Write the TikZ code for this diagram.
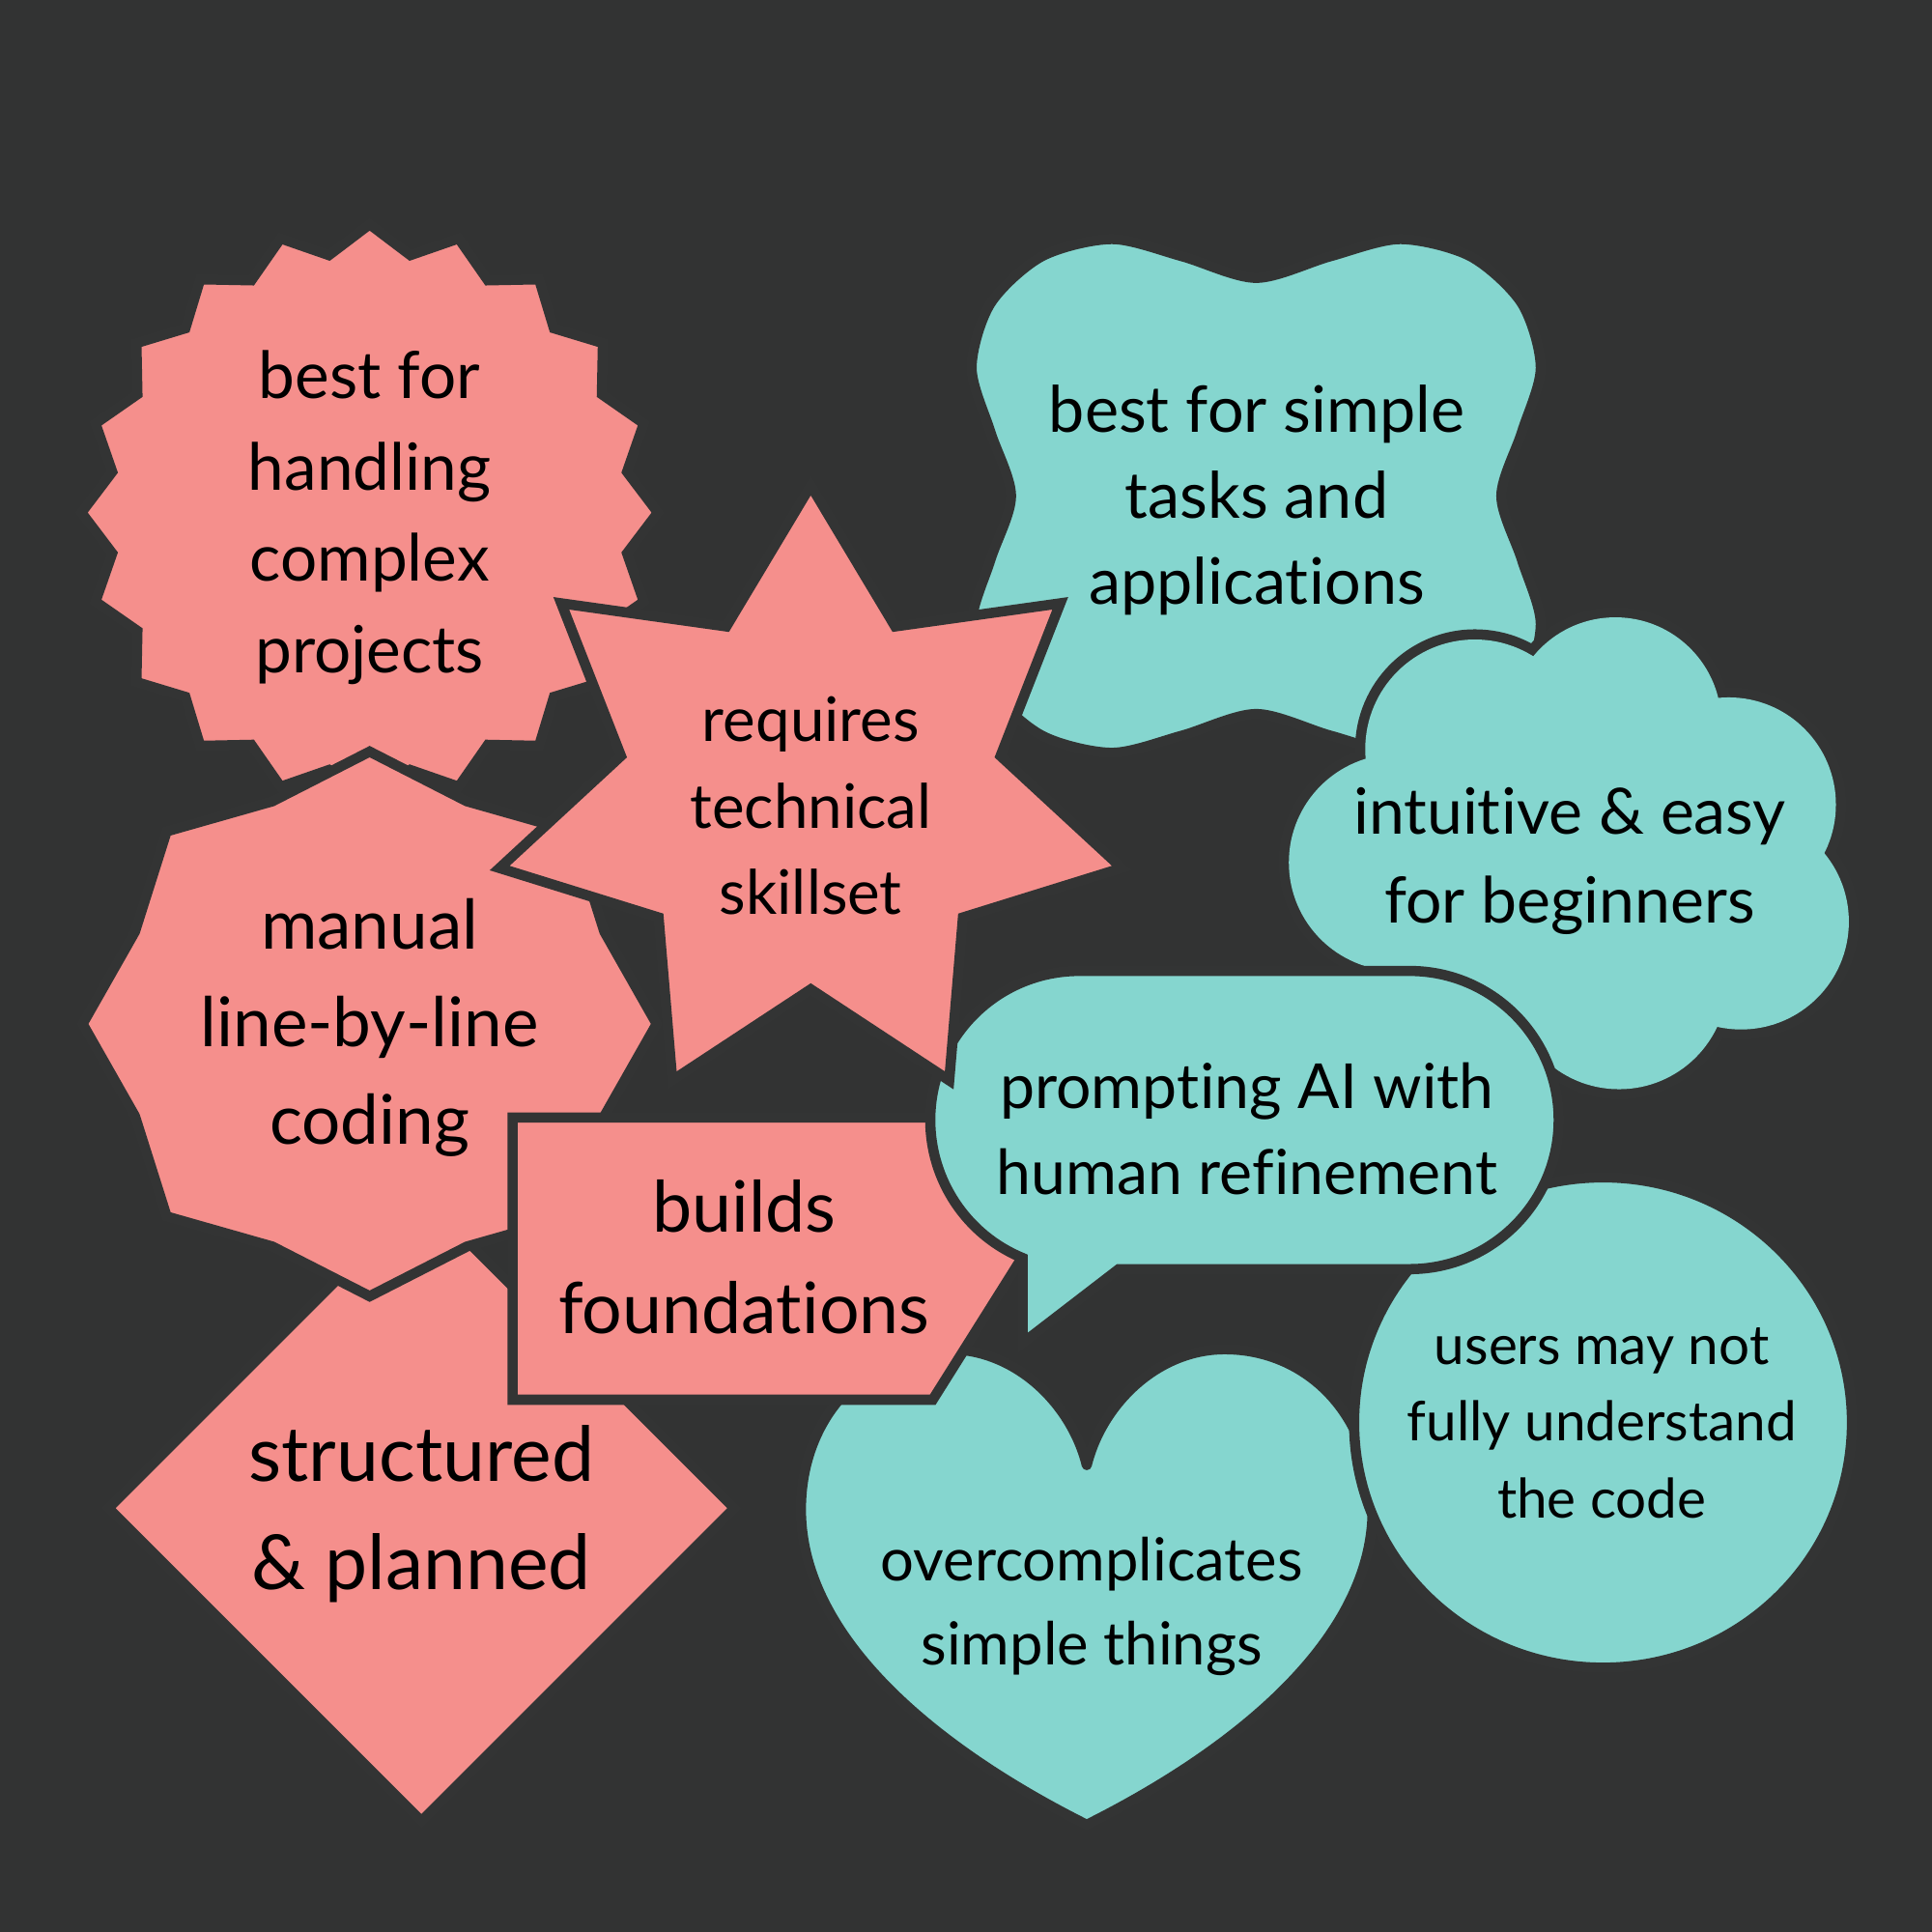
\documentclass[tikz,border=0pt]{standalone}
\usepackage{fontspec}
\setmainfont{Lato}[Ligatures={NoCommon,NoRequired,NoContextual,NoRare}, Contextuals={NoAlternate}]
\definecolor{bgc}{HTML}{323333}
\definecolor{edgec}{HTML}{333434}
\definecolor{pinkc}{HTML}{F58F8C}
\definecolor{tealc}{HTML}{85D6CF}
\newcommand{\brk}{\kern0.2pt}
\tikzset{
  pinkshape/.style={fill=pinkc, draw=edgec, line width=3pt, line join=miter},
  tealshape/.style={fill=tealc, draw=edgec, line width=3pt, line join=round},
  lbl/.style={text=black, align=center, inner sep=0pt},
}
\begin{document}
\begin{tikzpicture}[x=0.012755cm, y=-0.012755cm]
\fill[bgc] (0,0) rectangle (1568,1568);

% starburst (20 points)
\filldraw[pinkshape] plot[samples at={0,...,39}, variable=\k]
  ({300+234*(1-0.096*mod(\k,2))*cos(90+9*\k)}, {416-234*(1-0.096*mod(\k,2))*sin(90+9*\k)}) -- cycle;

% bone shape
\draw[tealshape] plot[smooth cycle, tension=0.5] coordinates {
  (1019.5,225.5)
  (1079.5,208) (1136.5,194) (1193.5,208) (1235.2,246.25) (1250.5,298.5) (1235.2,350.75)
  (1218.5,402.5)
  (1235.2,454.25) (1250.5,506.5) (1235.2,558.75) (1193.5,597) (1136.5,611) (1079.5,597)
  (1019.5,579.5)
  (959.5,597) (902.5,611) (845.5,597) (803.8,558.75) (788.5,506.5) (803.8,454.25)
  (820.5,402.5)
  (803.8,350.75) (788.5,298.5) (803.8,246.25) (845.5,208) (902.5,194) (959.5,208)};

% cloud
\foreach \cx/\cy/\cr in {1197/608/1.1352, 1311/587/1.0969, 1403/653/1.1097, 1413/748/1.1161, 1314/796/1.1224, 1220/760/1.1224, 1134/700/1.1224}
  \draw[edgec, line width=6pt] (\cx,\cy) circle [radius=\cr cm];
\fill[tealc] (1197,608) -- (1311,587) -- (1403,653) -- (1413,748) -- (1314,796) -- (1220,760) -- (1134,700) -- cycle;
\foreach \cx/\cy/\cr in {1197/608/1.1352, 1311/587/1.0969, 1403/653/1.1097, 1413/748/1.1161, 1314/796/1.1224, 1220/760/1.1224, 1134/700/1.1224}
  \fill[tealc] (\cx,\cy) circle [radius=\cr cm];

% diamond
\filldraw[pinkshape] (342,970) -- (596,1224) -- (342,1478) -- (88,1224) -- cycle;

% manual (8 points)
\filldraw[pinkshape] plot[samples at={0,...,15}, variable=\k]
  ({300+233*(1-0.115*mod(\k,2))*cos(90+22.5*\k)}, {831-221*(1-0.115*mod(\k,2))*sin(90+22.5*\k)}) -- cycle;

% heart
\draw[tealshape] (882,1189) .. controls (894,1140) and (939,1095) .. (994,1095)
  .. controls (1062,1095) and (1114,1150) .. (1114,1225)
  .. controls (1114,1330) and (1004,1420) .. (882,1481)
  .. controls (760,1420) and (650,1330) .. (650,1225)
  .. controls (650,1150) and (702,1095) .. (770,1095)
  .. controls (825,1095) and (870,1140) .. (882,1189) -- cycle;

% builds foundations
\filldraw[pinkshape] (416,907) -- (757,907) -- (829,1021.5) -- (757,1136) -- (416,1136) -- cycle;

% circle
\draw[tealshape] (1301,1154.5) ellipse [x radius=2.577cm, y radius=2.538cm];

% speech bubble
\draw[tealshape, line join=miter] (876,788) -- (1144,788)
  .. controls (1210.8,788) and (1265,842.2) .. (1265,909)
  .. controls (1265,975.8) and (1210.8,1030) .. (1144,1030)
  -- (908,1030) -- (830,1090) -- (830,1021)
  .. controls (784.6,1002.4) and (755,958) .. (755,909)
  .. controls (755,842.2) and (809.2,788) .. (876,788) -- cycle;

% 7-point star
\filldraw[pinkshape] plot[samples at={0,...,13}, variable=\k]
  ({658+259*(1-0.39*mod(\k,2))*cos(90+360/14*\k)}, {648-254*(1-0.39*mod(\k,2))*sin(90+360/14*\k)}) -- cycle;

% labels
\node[lbl, font=\fontsize{19.2}{26.9}\selectfont] (t1) at (300,420) {best for\\handling\\complex\\projects};
\node[lbl, font=\fontsize{20.2}{28.7}\selectfont] (t2) at (300,834) {manual\\line-by-line\\coding};
\node[lbl, font=\fontsize{18.1}{25.4}\selectfont] (t3) at (658,654) {requires\\technical\\skillset};
\node[lbl, font=\fontsize{22.4}{31.9}\selectfont] (t4) at (342,1229) {structured\\\& planned};
\node[lbl, font=\fontsize{20.9}{29.8}\selectfont] (t5) at (604,1020) {builds\\foundat\brk ions};
\node[lbl, font=\fontsize{18.9}{25.4}\selectfont] (t6) at (1020,406) {best for simple\\tasks and\\applicat\brk ions};
\node[lbl, font=\fontsize{18.8}{26.1}\selectfont] (t7) at (1274,699) {intuit\brk ive \& easy\\for beginners};
\node[lbl, font=\fontsize{18.3}{25.4}\selectfont] (t8) at (1012,916) {prompt\brk ing AI with\\human ref\brk inement};
\node[lbl, font=\fontsize{16.1}{22.5}\selectfont] (t9) at (1300,1155) {users may not\\fully understand\\the code};
\node[lbl, font=\fontsize{17.5}{24.7}\selectfont] (t10) at (886,1304) {overcomplicates\\simple things};
\end{tikzpicture}
\end{document}
